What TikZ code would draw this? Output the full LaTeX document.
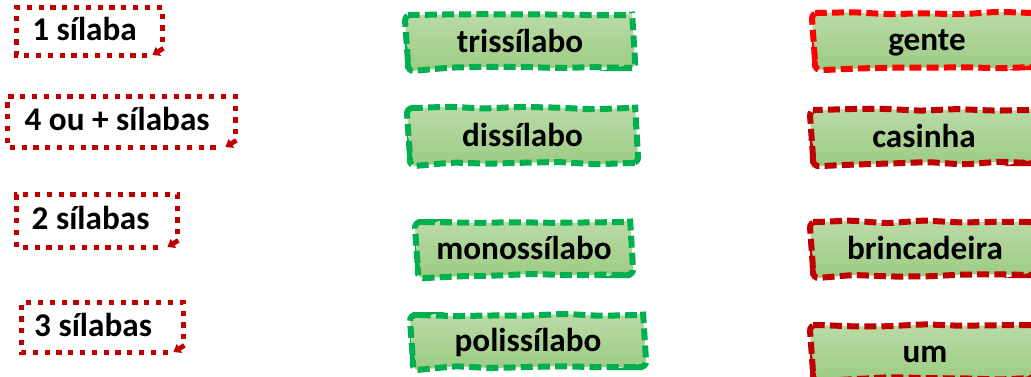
\documentclass[tikz,border=0pt]{standalone}
\usepackage{fontspec}
\setmainfont{Carlito}
\usetikzlibrary{decorations.pathmorphing, arrows.meta}
\definecolor{darkred}{HTML}{C00000}
\definecolor{brightred}{HTML}{FF0000}
\definecolor{boxgreen}{HTML}{00B050}
\definecolor{filltop}{HTML}{BBDBA8}
\definecolor{fillbot}{HTML}{9CCB82}

\begin{document}
\begin{tikzpicture}[x=0.5pt, y=-0.5pt, font=\fontsize{16.6}{20}\selectfont\bfseries]
    \tikzstyle{frame}=[inner sep=0pt]
    \tikzstyle{label}=[text height=13pt, text depth=2.5pt, inner sep=0pt]
    \tikzstyle{dotframe}=[darkred, line width=2.8pt, dash pattern=on 2.6pt off 3.3pt]
    \tikzstyle{notch}=[darkred, line width=2.4pt, -{Triangle[length=3.5pt, width=5pt]}]
    \tikzstyle{card}=[label, draw, line width=3pt, dash pattern=on 6pt off 2.6pt, top color=filltop, bottom color=fillbot,
        minimum height=26.5pt, rounded corners=3pt, decorate,
        decoration={random steps, segment length=18pt, amplitude=0.8pt}]
    \tikzstyle{term}=[card, draw=boxgreen]
    \tikzstyle{word}=[card, draw=darkred]
    \pgfmathsetseed{11}
    \useasboundingbox (0,0) rectangle (1031,376);
    \clip (0,0) rectangle (1031,376);

    % syllable counts
    \node[frame, minimum width=72.5pt, minimum height=23.5pt] (f1) at (89.5,31.5) {};
    \node[frame, minimum width=113.5pt, minimum height=25pt] (f4) at (121.5,122) {};
    \node[frame, minimum width=80pt, minimum height=26pt] (f2) at (97,221) {};
    \node[frame, minimum width=80.5pt, minimum height=24.5pt] (f3) at (102.5,327.5) {};
    \node[label] (t1) at ([xshift=-2.5pt,yshift=1pt]f1.center) {1 sílaba};
    \node[label] (t4) at ([xshift=-2.2pt,yshift=1pt]f4.center) {4 ou + sílabas};
    \node[label] (t2) at ([xshift=-3.2pt,yshift=1pt]f2.center) {2 sílabas};
    \node[label] (t3) at ([xshift=-4.7pt,yshift=1pt]f3.center) {3 sílabas};
    \foreach \f in {f1,f4,f2,f3} {
        \draw[dotframe] ([yshift=6.5pt]\f.south east) -- (\f.north east) -- (\f.north west)
            -- (\f.south west) -- ([xshift=-7pt]\f.south east);
        \draw[notch] ([xshift=0.5pt,yshift=3.5pt]\f.south east) -- ([xshift=-5pt,yshift=0.2pt]\f.south east);
    }

    % names
    \node[term, minimum width=112pt] (tri) at (520,41.5) {trissílabo};
    \node[term, minimum width=112.5pt, minimum height=27.5pt] (dis) at (522.5,135.5) {dissílabo};
    \node[term, minimum width=106pt] (mono) at (524,248.5) {monossílabo};
    \node[term, minimum width=115pt, minimum height=26pt] (poli) at (528,341) {polissílabo};

    % words
    \node[word, draw=brightred, minimum width=112pt, minimum height=27pt] (gente) at (927,40) {gente};
    \node[word, minimum width=111pt] (casinha) at (924,136.5) {casinha};
    \node[word, minimum width=112pt] (brinc) at (925,248.5) {brincadeira};
    \node[word, minimum width=112pt] (um) at (925,351.5) {um};
\end{tikzpicture}
\end{document}
